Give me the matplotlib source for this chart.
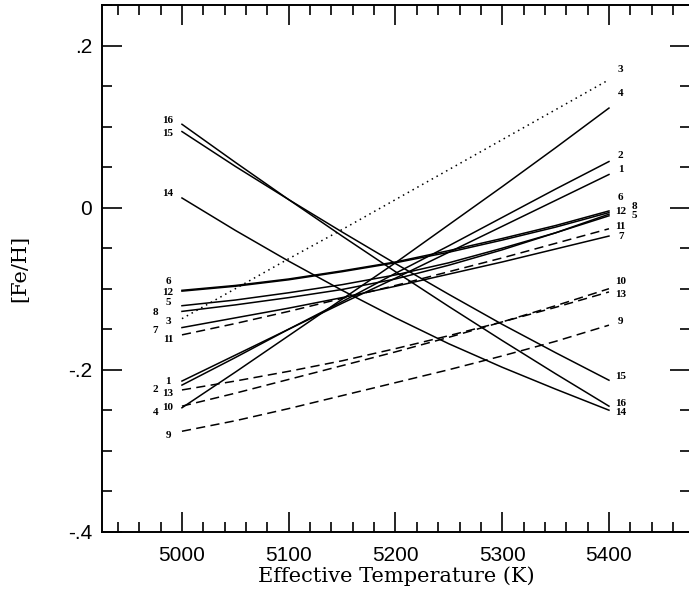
import matplotlib
matplotlib.use("Agg")
import matplotlib.pyplot as plt
from matplotlib.ticker import MultipleLocator, FixedLocator, FixedFormatter

temps = [5000, 5050, 5100, 5150, 5200, 5250, 5300, 5350, 5400]

feh_1 = [-0.214, -0.182, -0.150, -0.118, -0.087, -0.055, -0.023, 0.009, 0.041]
feh_2 = [-0.219, -0.185, -0.150, -0.116, -0.081, -0.047, -0.012, 0.023, 0.057]
feh_3 = [-0.137, -0.100, -0.063, -0.027, 0.010, 0.047, 0.084, 0.121, 0.158]
feh_4 = [-0.247, -0.203, -0.158, -0.113, -0.068, -0.021, 0.026, 0.074, 0.123]
feh_5 = [-0.121, -0.114, -0.105, -0.095, -0.083, -0.068, -0.050, -0.031, -0.010]
feh_6 = [-0.102, -0.096, -0.088, -0.078, -0.067, -0.053, -0.038, -0.022, -0.004]
feh_7 = [-0.148, -0.136, -0.124, -0.111, -0.097, -0.082, -0.067, -0.051, -0.035]
feh_8 = [-0.128, -0.120, -0.111, -0.101, -0.088, -0.071, -0.052, -0.031, -0.008]
feh_9 = [-0.276, -0.263, -0.248, -0.232, -0.216, -0.200, -0.183, -0.165, -0.145]
feh_10 = [-0.245, -0.229, -0.212, -0.195, -0.178, -0.160, -0.141, -0.121, -0.100]
feh_11 = [-0.157, -0.143, -0.128, -0.112, -0.096, -0.079, -0.062, -0.044, -0.026]
feh_12 = [-0.103, -0.097, -0.089, -0.079, -0.068, -0.055, -0.040, -0.024, -0.006]
feh_13 = [-0.225, -0.214, -0.202, -0.189, -0.174, -0.158, -0.141, -0.123, -0.104]
feh_14 = [0.012, -0.028, -0.066, -0.102, -0.136, -0.168, -0.197, -0.224, -0.250]
feh_15 = [0.094, 0.051, 0.010, -0.030, -0.069, -0.107, -0.144, -0.179, -0.213]
feh_16 = [0.103, 0.056, 0.010, -0.035, -0.079, -0.122, -0.164, -0.205, -0.245]

series = [feh_1, feh_2, feh_3, feh_4, feh_5, feh_6, feh_7, feh_8,
          feh_9, feh_10, feh_11, feh_12, feh_13, feh_14, feh_15, feh_16]
names = [str(i) for i in range(1, 17)]
dashed = ["9", "10", "11", "13"]
dotted = ["3"]

# where the number labels sit at each end
left_lab_t = {"8": 4975, "7": 4975, "2": 4975, "4": 4975}
left_lab_y = {"1": -0.214, "2": -0.225, "3": -0.140, "4": -0.253, "5": -0.117,
              "6": -0.091, "7": -0.151, "8": -0.129, "9": -0.281, "10": -0.247,
              "11": -0.163, "12": -0.105, "13": -0.230, "14": 0.017, "15": 0.091,
              "16": 0.108}
right_lab_t = {"8": 5424, "5": 5424}
right_lab_y = {"1": 0.047, "2": 0.064, "3": 0.170, "4": 0.141, "5": -0.010,
               "6": 0.012, "7": -0.035, "8": 0.002, "9": -0.141, "10": -0.091,
               "11": -0.023, "12": -0.005, "13": -0.107, "14": -0.253, "15": -0.208,
               "16": -0.242}


def main():
    fig = plt.figure(figsize=(6.89, 5.94), dpi=100)
    ax = fig.add_axes([101.9 / 689, 62.3 / 594, 588.2 / 689, 526.5 / 594])

    for name, vals in zip(names, series):
        if name in dotted:
            ls = (0, (1, 2.6))
        elif name in dashed:
            ls = (0, (6, 3.5))
        else:
            ls = "-"
        ax.plot(temps, vals, color="black", lw=1.1, linestyle=ls)
        ax.text(left_lab_t.get(name, 4987), left_lab_y[name], name, ha="center", va="center",
                fontsize=8, fontweight="bold", family="Liberation Serif")
        ax.text(right_lab_t.get(name, 5411), right_lab_y[name], name, ha="center", va="center",
                fontsize=8, fontweight="bold", family="Liberation Serif")

    ax.set_xlim(4925, 5476)
    ax.set_ylim(-0.4, 0.25)

    ax.xaxis.set_major_locator(MultipleLocator(100))
    ax.xaxis.set_minor_locator(MultipleLocator(20))
    ax.yaxis.set_major_locator(FixedLocator([-0.4, -0.2, 0.0, 0.2]))
    ax.yaxis.set_major_formatter(FixedFormatter(["-.4", "-.2", "0", ".2"]))
    ax.yaxis.set_minor_locator(MultipleLocator(0.05))

    ax.tick_params(which="both", direction="in", top=True, right=True, width=1.2)
    ax.tick_params(which="major", length=14.5)
    ax.tick_params(which="minor", length=7)
    ax.tick_params(axis="x", pad=10, labelsize=15)
    ax.tick_params(axis="y", pad=7, labelsize=15)
    for lab in ax.get_xticklabels() + ax.get_yticklabels():
        lab.set_family("Liberation Sans")
    for sp in ax.spines.values():
        sp.set_linewidth(1.4)
    # the right frame edge falls just outside the picture in the original
    ax.spines["right"].set_visible(False)

    ax.set_xlabel("Effective Temperature (K)", family="DejaVu Serif", fontsize=15, labelpad=1)
    ax.set_ylabel("[Fe/H]", family="DejaVu Serif", fontsize=15, labelpad=28)

    plt.savefig("out.png", dpi=100)


if __name__ == '__main__':
    main()
